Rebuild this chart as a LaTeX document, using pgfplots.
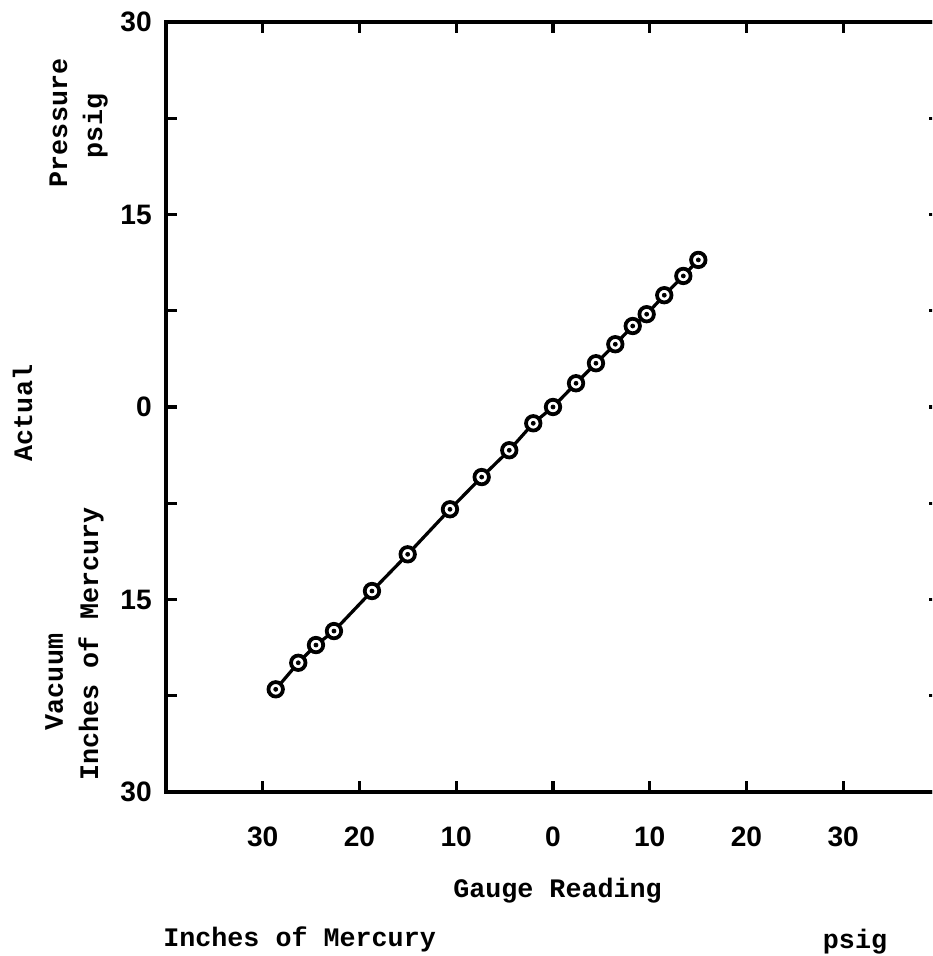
\documentclass[border=0pt]{standalone}
\usepackage{pgfplots}
\pgfplotsset{compat=1.18}
\usepackage{pgfplotstable}
\usepackage{fontspec}
\setmainfont{Liberation Mono}
\newfontfamily\tickfont{Liberation Sans}
\pgfplotstableread{
x y
-28.66 -22.00
-26.33 -19.93
-24.50 -18.55
-22.64 -17.46
-18.71 -14.34
-15.02 -11.48
-10.65 -7.97
-7.37 -5.46
-4.52 -3.37
-2.04 -1.27
0.00 0.00
2.38 1.85
4.44 3.41
6.44 4.89
8.24 6.31
9.68 7.23
11.50 8.71
13.47 10.21
15.02 11.46
}\gauge
\begin{document}
\begin{tikzpicture}
\useasboundingbox (-3.32,-3.28) rectangle (15.32,15.84);
\clip (-3.32,-3.28) rectangle (15.32,15.84);
\begin{axis}[
  at={(0,0)}, anchor=south west,
  scale only axis, width=15.48cm, height=15.4cm,
  xmin=-40, xmax=40, ymin=-30, ymax=30,
  axis line style={line width=0.085cm},
  tick style={line width=0.065cm, black},
  major tick length=0.22cm,
  tick align=inside,
  xtick={-30,-20,-10,0,10,20,30},
  xticklabels={30,20,10,0,10,20,30},
  ytick={-30,-22.5,-15,-7.5,0,7.5,15,22.5,30},
  yticklabels={30,,15,,0,,15,,30},
  xticklabel style={font=\tickfont\bfseries\fontsize{16}{19}\selectfont, anchor=north, inner sep=0pt, yshift=-0.7cm},
  yticklabel style={font=\tickfont\bfseries\fontsize{16}{19}\selectfont, anchor=east, inner sep=0pt, xshift=-0.28cm},
  clip=false,
]
\addplot[black, line width=0.065cm, mark=*, mark size=0.145cm,
  mark options={fill=white, draw=black, line width=0.075cm}] table {\gauge};
\addplot[only marks, black, mark=*, mark size=0.04cm] table {\gauge};
\end{axis}
\begin{scope}[every node/.style={font=\bfseries\fontsize{15.2}{18}\selectfont, inner sep=0pt}]
\node[anchor=base] at (7.83,-2.10) {Gauge Reading};
\node[anchor=base west] at (-0.06,-3.08) {Inches of Mercury};
\node[anchor=base] at (13.78,-3.12) {psig};
\node[anchor=base, rotate=90] at (-2.68,7.58) {Actual};
\node[anchor=base, rotate=90] at (-1.98,13.38) {Pressure};
\node[anchor=base, rotate=90] at (-1.28,13.32) {psig};
\node[anchor=base, rotate=90] at (-2.06,2.2) {Vacuum};
\node[anchor=base, rotate=90] at (-1.36,2.96) {Inches of Mercury};
\end{scope}
\end{tikzpicture}
\end{document}
